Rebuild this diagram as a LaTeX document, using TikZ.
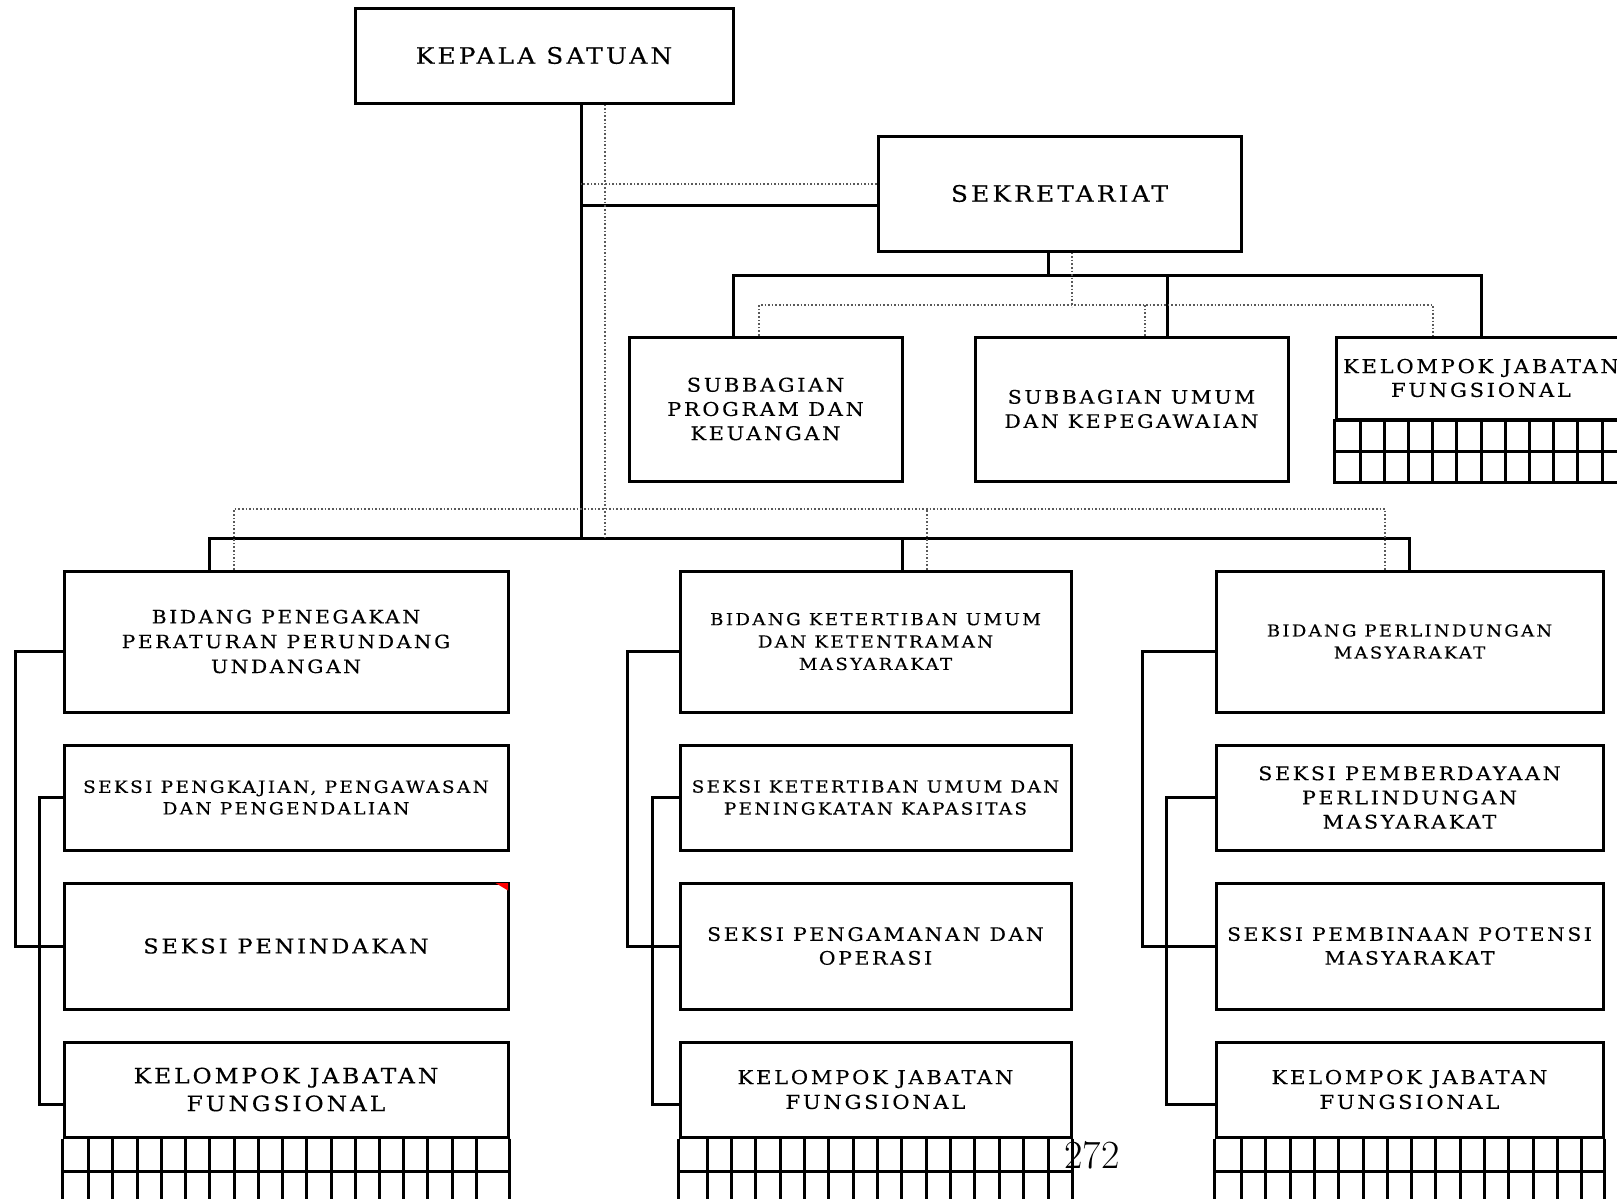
\documentclass[tikz,border=0pt]{standalone}
\usepackage{fontspec}
\newfontfamily\orgfont[LetterSpace=14, FakeStretch=1.1, FakeBold=0.3]{DejaVu Serif}
\newcommand\fsz[2]{\fontsize{#1}{#2}\selectfont}
\tikzset{
  unit/.style={draw, line width=1.5pt, align=center, inner sep=0pt, font=\orgfont},
  frame/.style={line width=1.5pt},
  conn/.style={line width=1.5pt},
  coord/.style={line width=0.8pt, black!65, densely dotted}
}

\begin{document}
\begin{tikzpicture}[x=0.5pt, y=-0.5pt]
\clip (0,0) rectangle (1617,1199);
\fill[white] (0,0) rectangle (1617,1199);

\node[unit, minimum width=189pt, minimum height=47.5pt, font=\orgfont\fsz{11.3}{14}] (kepala) at (544,55.5) {KEPALA SATUAN};
\node[unit, minimum width=181.5pt, minimum height=57.5pt, font=\orgfont\fsz{11.3}{14}] (sek) at (1059.5,193.5) {SEKRETARIAT};

\node[unit, minimum width=136.5pt, minimum height=72pt, font=\orgfont\fsz{9.5}{12.1}] (subprog) at (765.5,409) {SUBBAGIAN\\PROGRAM DAN\\KEUANGAN};
\node[unit, minimum width=156.5pt, minimum height=72pt, font=\orgfont\fsz{9.3}{12.1}] (subumum) at (1131.5,409) {SUBBAGIAN UMUM\\DAN KEPEGAWAIAN};
\node[unit, minimum width=145pt, minimum height=41pt, font=\orgfont\fsz{9.6}{11.9}] (kjfT) at (1481,378) {KELOMPOK JABATAN\\FUNGSIONAL};

% kolom kiri
\node[unit, minimum width=222pt, minimum height=70.5pt, font=\orgfont\fsz{9.2}{12.4}] (bidL) at (286,641.5) {BIDANG PENEGAKAN\\PERATURAN PERUNDANG\\UNDANGAN};
\node[unit, minimum width=222pt, minimum height=52.5pt, font=\orgfont\fsz{8.4}{10.8}] (sk1L) at (286,797.5) {SEKSI PENGKAJIAN, PENGAWASAN\\DAN PENGENDALIAN};
\node[unit, minimum width=222pt, minimum height=63pt, font=\orgfont\fsz{10.2}{12}] (sk2L) at (286,946) {SEKSI PENINDAKAN};
\node[unit, minimum width=222pt, minimum height=47.5pt, font=\orgfont\fsz{10.6}{13.9}] (kjfL) at (286,1089.5) {KELOMPOK JABATAN\\FUNGSIONAL};

% kolom tengah
\node[unit, minimum width=195.5pt, minimum height=70.5pt, font=\orgfont\fsz{8.3}{11.2}] (bidM) at (875.5,641.5) {BIDANG KETERTIBAN UMUM\\DAN KETENTRAMAN\\MASYARAKAT};
\node[unit, minimum width=195.5pt, minimum height=52.5pt, font=\orgfont\fsz{8.35}{11}] (sk1M) at (875.5,797.5) {SEKSI KETERTIBAN UMUM DAN\\PENINGKATAN KAPASITAS};
\node[unit, minimum width=195.5pt, minimum height=63pt, font=\orgfont\fsz{9.3}{11.9}] (sk2M) at (875.5,946) {SEKSI PENGAMANAN DAN\\OPERASI};
\node[unit, minimum width=195.5pt, minimum height=47.5pt, font=\orgfont\fsz{9.6}{12.4}] (kjfM) at (875.5,1089.5) {KELOMPOK JABATAN\\FUNGSIONAL};

% kolom kanan
\node[unit, minimum width=193.5pt, minimum height=70.5pt, font=\orgfont\fsz{8.2}{11}] (bidR) at (1409.5,641.5) {BIDANG PERLINDUNGAN\\MASYARAKAT};
\node[unit, minimum width=193.5pt, minimum height=52.5pt, font=\orgfont\fsz{9.4}{12.1}] (sk1R) at (1409.5,797.5) {SEKSI PEMBERDAYAAN\\PERLINDUNGAN\\MASYARAKAT};
\node[unit, minimum width=193.5pt, minimum height=63pt, font=\orgfont\fsz{9.2}{11.9}] (sk2R) at (1409.5,946) {SEKSI PEMBINAAN POTENSI\\MASYARAKAT};
\node[unit, minimum width=193.5pt, minimum height=47.5pt, font=\orgfont\fsz{9.6}{12.4}] (kjfR) at (1409.5,1089.5) {KELOMPOK JABATAN\\FUNGSIONAL};

\node[font=\fsz{20}{20}, inner sep=0pt] (hal) at (1092,1155) {272};

% kisi jabatan fungsional
\draw[frame] (kjfT.south west) rectangle ([yshift=-31pt]kjfT.south east);
\draw[frame] ([yshift=-15.5pt]kjfT.south west) -- ([yshift=-15.5pt]kjfT.south east);
\foreach \k in {0,...,11} \draw[frame] ({1360+24.2*\k},419) -- ++(0,62);
\foreach \n in {kjfL,kjfM,kjfR}{
  \draw[frame] (\n.south west) -- ++(0,80);
  \draw[frame] (\n.south east) -- ++(0,80);
  \draw[frame] ([yshift=-16.5pt]\n.south west) -- ([yshift=-16.5pt]\n.south east);
}
\foreach \k in {0,...,16} \draw[frame] ({88.7+24.23*\k},1137) -- ++(0,80);
\foreach \k in {0,...,14} \draw[frame] ({707+24.36*\k},1137) -- ++(0,80);
\foreach \k in {0,...,14} \draw[frame] ({1241.5+24.3*\k},1137) -- ++(0,80);

\fill[red] ([xshift=-7pt,yshift=-0.75pt]sk2L.north east) -- ([xshift=-0.75pt,yshift=-0.75pt]sk2L.north east) -- ([xshift=-0.75pt,yshift=-4.5pt]sk2L.north east) -- cycle;

% garis komando
\coordinate (busA) at (581,538);
\draw[conn] (kepala.south -| busA) -- (busA);
\draw[conn] ([yshift=-5.75pt]sek.west) -- ([yshift=-5.75pt]sek.west -| busA);
\draw[conn] ([xshift=-5.75pt]sek.south) -- ++(0,24);
\draw[conn] ([xshift=-16.25pt]subprog.north) |- (kjfT.north |- 0,275) -- (kjfT.north);
\draw[conn] ([xshift=17.75pt]subumum.north) -- ++(0,-62);
\draw[conn] ([xshift=-38.5pt]bidL.north) |- (bidR.north |- busA) -- (bidR.north);
\draw[conn] ([xshift=13.25pt]bidM.north) -- ++(0,-33);

\draw[conn] ([yshift=-4.75pt]bidL.west) -- ++(-47.5,0) |- (sk2L.west);
\draw[conn] (sk1L.west) -- ++(-23,0) |- ([yshift=-7.25pt]kjfL.west);
\draw[conn] ([yshift=-4.75pt]bidM.west) -- ++(-51,0) |- (sk2M.west);
\draw[conn] (sk1M.west) -- ++(-26,0) |- ([yshift=-7.25pt]kjfM.west);
\draw[conn] ([yshift=-4.75pt]bidR.west) -- ++(-72,0) |- (sk2R.west);
\draw[conn] (sk1R.west) -- ++(-48,0) |- ([yshift=-7.25pt]kjfR.west);

% garis koordinasi
\draw[coord] (kepala.south -| 605,0) -- (605,538);
\draw[coord] ([yshift=4.75pt]sek.west) -- ([yshift=4.75pt]sek.west -| busA);
\draw[coord] ([xshift=6.25pt]sek.south) -- ++(0,54);
\draw[coord] ([xshift=-3.25pt]subprog.north) |- ([xshift=-24pt]kjfT.north |- 0,305) -- ([xshift=-24pt]kjfT.north);
\draw[coord] ([xshift=6.75pt]subumum.north) -- ++(0,-32);
\draw[coord] ([xshift=-26pt]bidL.north) |- ([xshift=-12.25pt]bidR.north |- 0,509) -- ([xshift=-12.25pt]bidR.north);
\draw[coord] ([xshift=25.75pt]bidM.north) -- ++(0,-62);
\end{tikzpicture}
\end{document}
